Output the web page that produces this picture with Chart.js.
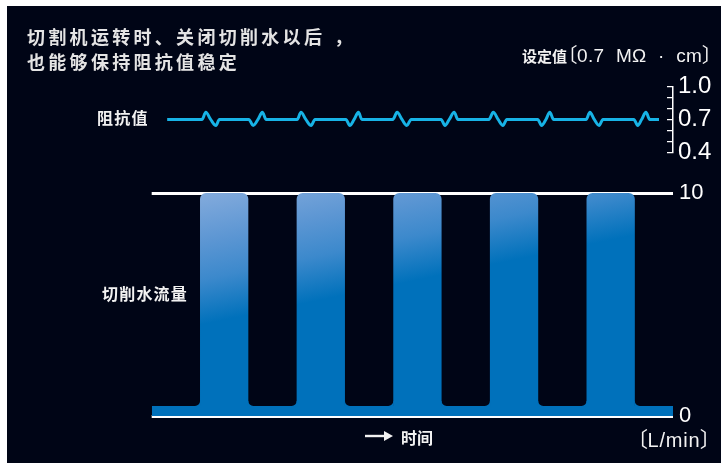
<!DOCTYPE html>
<html>
<head>
<meta charset="utf-8">
<script src="https://cdn.jsdelivr.net/npm/chart.js@4.4.1/dist/chart.umd.min.js"></script>
<style>
  html, body { margin:0; padding:0; background:#ffffff; }
  body { width:721px; height:463px; position:relative; overflow:hidden; }
  #panel { position:absolute; left:7px; top:6px; width:714px; height:457px; background:#000516; }
  #c { position:absolute; left:0; top:0; }
  .t { position:absolute; white-space:nowrap; color:#f2f2f2; font-family:"Noto Sans CJK SC", sans-serif; }
  .title { font-size:18px; line-height:18px; font-weight:700; letter-spacing:3.3px; color:#e4e4e4; }
  .lab { font-size:16px; line-height:16px; font-weight:700; letter-spacing:1.2px; }
  .lat { font-family:"Liberation Sans","Noto Sans CJK SC",sans-serif; font-weight:400; }
  .br { font-family:"Noto Sans CJK SC",sans-serif; font-feature-settings:"palt"; font-weight:400; }
</style>
</head>
<body>
<div id="panel"></div>
<canvas id="c" width="721" height="463"></canvas>

<div class="t title" style="left:27px;top:27px">切割机运转时、关闭切削水以后<span style="margin-left:9px">，</span></div>
<div class="t title" style="left:27px;top:52px">也能够保持阻抗值稳定</div>

<div class="t" style="left:522px;top:42px;font-size:15px;line-height:24px;font-weight:700;">设定值<span class="br" style="font-size:20px">〔</span><span class="lat" style="font-size:19px;word-spacing:6px;letter-spacing:0.3px">0.7 MΩ · cm</span><span class="br" style="font-size:20px">〕</span></div>

<div class="t lab" style="left:97px;top:109px">阻抗值</div>
<div class="t lab" style="left:102px;top:285px">切削水流量</div>

<svg style="position:absolute;left:363px;top:429px" width="32" height="14">
  <line x1="2" y1="7" x2="22" y2="7" stroke="#f2f2f2" stroke-width="2.4"/>
  <polygon points="21,2 30,7 21,12" fill="#f2f2f2"/>
</svg>
<div class="t lab" style="left:401px;top:429px;letter-spacing:0">时间</div>

<div class="t" style="left:637px;top:426px;font-size:21px;line-height:24px;"><span class="br">〔</span><span class="lat" style="font-size:20px;letter-spacing:0.8px">L/min</span><span class="br">〕</span></div>

<script>
// ---------------- data ----------------
const flowTime  = [1.5, 3.5, 5.5, 7.5, 9.5];      // centre of each "water on" period
const flowValue = [10, 10, 10, 10, 10];           // L/min while cutting water is on
const baseFlowTime  = [0, 10.79];                 // residual flow between periods
const baseFlowValue = [0.45, 0.45];
const flowTicks = [0, 10];

const resTime = [0.32,
  1.04, 1.12, 1.22, 1.33, 1.40,
  2.01, 2.10, 2.20, 2.29, 2.37,
  3.01, 3.09, 3.19, 3.30, 3.38,
  4.02, 4.10, 4.19, 4.28, 4.35,
  4.99, 5.08, 5.18, 5.28, 5.37,
  5.99, 6.07, 6.16, 6.26, 6.34,
  6.98, 7.07, 7.17, 7.27, 7.35,
  7.99, 8.07, 8.16, 8.24, 8.32,
  8.99, 9.07, 9.16, 9.26, 9.34,
  9.98, 10.06, 10.14, 10.23, 10.31,
  10.50];
const resValue = [0.70,
  0.70, 0.765, 0.70, 0.645, 0.70,
  0.70, 0.645, 0.70, 0.765, 0.70,
  0.70, 0.765, 0.70, 0.645, 0.70,
  0.70, 0.645, 0.70, 0.765, 0.70,
  0.70, 0.765, 0.70, 0.645, 0.70,
  0.70, 0.645, 0.70, 0.765, 0.70,
  0.70, 0.765, 0.70, 0.645, 0.70,
  0.70, 0.645, 0.70, 0.765, 0.70,
  0.70, 0.765, 0.70, 0.645, 0.70,
  0.70, 0.645, 0.70, 0.765, 0.70,
  0.70];
const resMin = 0.4, resMax = 1.0, resStep = 0.1;
const resTickLabels = ['0.4', '0.7', '1.0'];
const xMin = 0, xMax = 10.79;

// ---------------- styles ----------------
const BLUE = '#0071bb';
const CYAN = '#17b3e6';
const AXIS_W = 48;

function barGradient(ctx) {
  const chart = ctx.chart, ca = chart.chartArea;
  if (!ca) return BLUE;
  const top = chart.scales.yFlow.top;
  const x0 = ca.left, y0 = top - 23;
  const g = chart.ctx.createLinearGradient(x0, y0, x0 + 32.7, y0 + 158.1);
  g.addColorStop(0, '#93b8e4');
  g.addColorStop(0.24, '#7ea8db');
  g.addColorStop(0.5, '#5c96d3');
  g.addColorStop(0.73, '#3c89cc');
  g.addColorStop(1, BLUE);
  return g;
}

// concave fillets where each bar meets the residual-flow band
const filletPlugin = {
  id: 'fillets',
  afterDatasetsDraw(chart) {
    const meta = chart.getDatasetMeta(0);
    const y = chart.scales.yFlow.getPixelForValue(baseFlowValue[0]);
    const r = 5;
    const c = chart.ctx;
    c.save();
    c.fillStyle = BLUE;
    meta.data.forEach(bar => {
      const L = bar.x - bar.width / 2, R = bar.x + bar.width / 2;
      c.beginPath();
      c.moveTo(L + 0.5, y + 0.5);
      c.lineTo(L - r, y + 0.5);
      c.arc(L - r, y - r, r, Math.PI / 2, 0, true);
      c.lineTo(L + 0.5, y - r);
      c.closePath();
      c.fill();
      c.beginPath();
      c.moveTo(R - 0.5, y + 0.5);
      c.lineTo(R + r, y + 0.5);
      c.arc(R + r, y - r, r, Math.PI / 2, Math.PI, false);
      c.lineTo(R - 0.5, y - r);
      c.closePath();
      c.fill();
    });
    c.restore();
  }
};

const fixWidth = s => { s.width = AXIS_W; };

new Chart(document.getElementById('c'), {
  type: 'bar',
  data: {
    datasets: [
      {
        type: 'bar',
        label: '切削水流量',
        data: flowTime.map((t, i) => ({ x: t, y: flowValue[i] })),
        xAxisID: 'x', yAxisID: 'yFlow',
        backgroundColor: barGradient,
        borderWidth: 0,
        borderRadius: 6,
        barPercentage: 1.0,
        categoryPercentage: 0.5,
        order: 2
      },
      {
        type: 'line',
        label: 'base flow',
        data: baseFlowTime.map((t, i) => ({ x: t, y: baseFlowValue[i] })),
        xAxisID: 'x', yAxisID: 'yFlow',
        backgroundColor: BLUE,
        borderWidth: 0,
        pointRadius: 0,
        fill: 'origin',
        order: 3
      },
      {
        type: 'line',
        label: '阻抗值',
        data: resTime.map((t, i) => ({ x: t, y: resValue[i] })),
        xAxisID: 'x', yAxisID: 'yRes',
        borderColor: CYAN,
        borderWidth: 3,
        pointRadius: 0,
        fill: false,
        cubicInterpolationMode: 'monotone',
        clip: false,
        order: 1
      }
    ]
  },
  options: {
    responsive: false,
    animation: false,
    events: [],
    layout: { padding: { left: 151.7, top: 86.7, right: 0, bottom: 47 } },
    plugins: { legend: { display: false }, tooltip: { enabled: false } },
    scales: {
      x: { type: 'linear', min: xMin, max: xMax, offset: false, display: false },
      yRes: {
        type: 'linear', position: 'right', stack: 'r', stackWeight: 65.5,
        min: resMin, max: resMax,
        afterFit: fixWidth,
        ticks: {
          stepSize: resStep,
          autoSkip: false,
          color: '#ffffff',
          padding: 5,
          font: { family: 'Liberation Sans', size: 24 },
          callback: v => { const s = Number(v).toFixed(1); return resTickLabels.includes(s) ? s : ''; }
        },
        grid: { drawOnChartArea: true, drawTicks: false, color: '#ffffff', lineWidth: 1.2 },
        border: {
          display: true, color: '#ffffff', width: 1.5,
          dash: ctx => { const a = ctx.chart.chartArea; const L = a ? a.right - a.left : 520; return [0, L - 6, 6, 9999]; }
        }
      },
      yGap: {
        type: 'linear', position: 'right', stack: 'r', stackWeight: 40.8,
        display: true, afterFit: fixWidth,
        ticks: { display: false }, grid: { display: false }, border: { display: false }
      },
      yFlow: {
        type: 'linear', position: 'right', stack: 'r', stackWeight: 223,
        min: flowTicks[0], max: flowTicks[flowTicks.length - 1],
        afterFit: fixWidth,
        afterBuildTicks: s => { s.ticks = flowTicks.map(v => ({ value: v })); },
        ticks: { color: '#ffffff', padding: 6, font: { family: 'Liberation Sans', size: 22 } },
        grid: { color: '#ffffff', lineWidth: 3, drawTicks: false },
        border: { display: false },
        z: 1
      }
    }
  },
  plugins: [filletPlugin]
});
</script>
</body>
</html>
